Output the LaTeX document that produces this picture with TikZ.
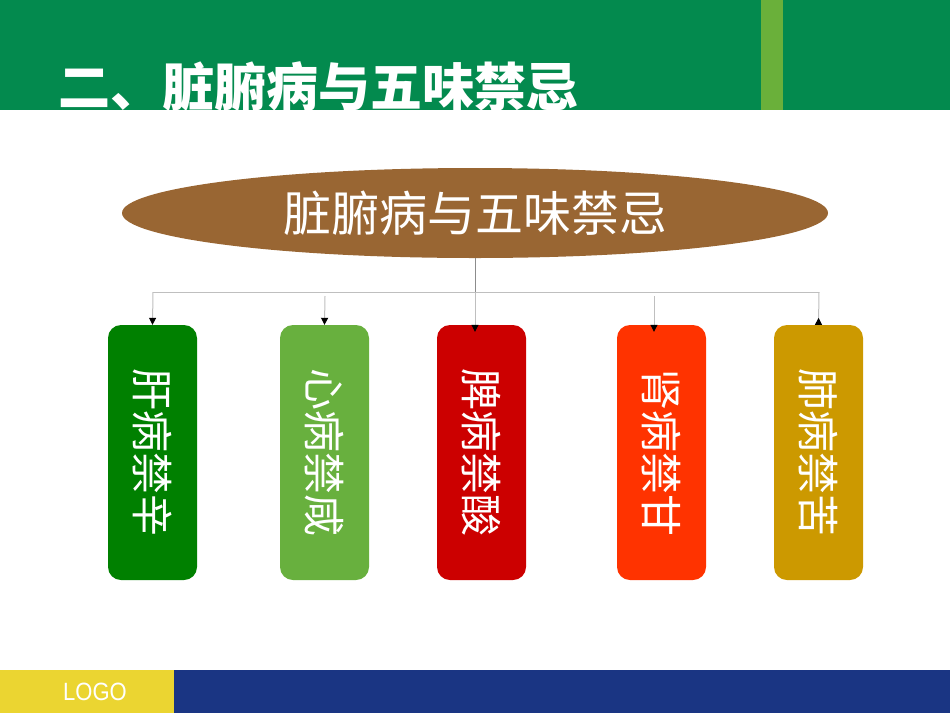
\documentclass[tikz,border=0pt]{standalone}
\usepackage{fontspec}
\usetikzlibrary{shapes.geometric,arrows.meta}
\newfontfamily\cjk{Noto Sans CJK SC}
\newfontfamily\lsans{Liberation Sans}
\definecolor{hgreen}{RGB}{3,138,78}
\definecolor{stripe}{RGB}{106,176,58}
\definecolor{brownc}{RGB}{153,102,51}
\definecolor{bxone}{RGB}{0,128,0}
\definecolor{bxtwo}{RGB}{104,176,62}
\definecolor{bxthree}{RGB}{204,0,0}
\definecolor{bxfour}{RGB}{255,51,0}
\definecolor{bxfive}{RGB}{204,153,0}
\definecolor{fyellow}{RGB}{235,213,49}
\definecolor{fblue}{RGB}{26,53,131}
\begin{document}
\begin{tikzpicture}[x=1pt,y=-1pt,
  boxnode/.style={rectangle, rounded corners=13pt, minimum width=89pt, minimum height=255pt, inner sep=0pt},
  vtext/.style={text=white, font=\cjk\fontsize{42}{42}\selectfont, rotate=-90, inner sep=0pt},
  link/.style={draw=black!25, line width=1pt},
  linkdark/.style={draw=black!45, line width=1pt},
  arr/.style={link, -{Triangle[color=black,width=7pt,length=7pt]}},
  arrup/.style={link, -{Triangle[color=black,width=7pt,length=7pt,reversed]}}]
\useasboundingbox (0,0) rectangle (950,713);
% header
\fill[hgreen] (0,0) rectangle (950,110);
\fill[stripe] (761,0) rectangle (783,110);
\node[anchor=base west, text=white, font=\cjk\bfseries\fontsize{52}{52}\selectfont, inner sep=0pt] (title) at (58,106) {二、脏腑病与五味禁忌};
% root
\node[ellipse, fill=brownc, minimum width=706pt, minimum height=90pt, inner sep=0pt, text=white, font=\cjk\fontsize{48}{48}\selectfont] (root) at (475,213) {脏腑病与五味禁忌};
% boxes
\node[boxnode, fill=bxone] (b1) at (152.5,452.5) {};
\node[boxnode, fill=bxtwo] (b2) at (324.5,452.5) {};
\node[boxnode, fill=bxthree] (b3) at (481.5,452.5) {};
\node[boxnode, fill=bxfour] (b4) at (661.5,452.5) {};
\node[boxnode, fill=bxfive] (b5) at (818.5,452.5) {};
\node[vtext] (t1) at (b1.center) {肝病禁辛};
\node[vtext] (t2) at (b2.center) {心病禁咸};
\node[vtext] (t3) at (b3.center) {脾病禁酸};
\node[vtext] (t4) at (b4.center) {肾病禁甘};
\node[vtext] (t5) at (b5.center) {肺病禁苦};
% connectors
\coordinate (hL) at (153,292);
\coordinate (hM) at (475,292);
\coordinate (hR) at (819,292);
\coordinate (s2) at (325,296);
\coordinate (s4) at (654,296);
\draw[linkdark] (root.south) -- (hM);
\draw[link] (hL) -- (hR);
\draw[arr] (hL) -- (b1.north);
\draw[arr] (s2) -- (b2.north);
\draw[arr] (hM) -- ([xshift=-6.5pt,yshift=-7pt]b3.north);
\draw[arr] (s4) -- ([xshift=-7.5pt,yshift=-7pt]b4.north);
\draw[arrup] (hR) -- (b5.north);
% footer
\fill[fyellow] (0,670) rectangle (174,713);
\fill[fblue] (174,670) rectangle (950,713);
\node[text=white, font=\lsans\fontsize{25}{25}\selectfont, inner sep=0pt, xscale=0.88] (logo) at (95,692) {LOGO};
\end{tikzpicture}
\end{document}
